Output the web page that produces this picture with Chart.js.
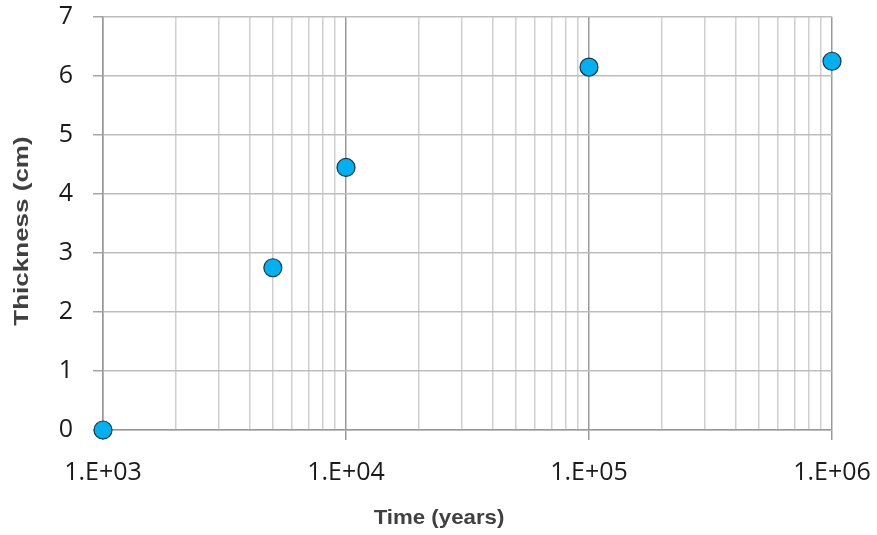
<!DOCTYPE html>
<html>
<head>
<meta charset="utf-8">
<script src="https://cdn.jsdelivr.net/npm/chart.js@4.4.1/dist/chart.umd.min.js"></script>
<style>
html,body{margin:0;padding:0;background:#fff;}
#wrap{width:877px;height:535px;}
</style>
</head>
<body>
<div id="wrap"><canvas id="c" width="877" height="535"></canvas></div>
<script>
// ---- data ----
const timeYears = [1000, 5000, 10000, 100000, 1000000];
const thicknessCm = [0, 2.75, 4.45, 6.15, 6.25];
const xDecades = [1000, 10000, 100000, 1000000];
const xTickLabels = ['1.E+03', '1.E+04', '1.E+05', '1.E+06'];
const yTickValues = [0, 1, 2, 3, 4, 5, 6, 7];
const xTitle = 'Time (years)';
const yTitle = 'Thickness (cm)';

function isDecade(v) {
  return xDecades.some(d => Math.abs(d - v) < 1e-6 * d);
}

const axisTitles = {
  id: 'axisTitles',
  afterDraw(chart) {
    const ctx = chart.ctx;
    ctx.save();
    ctx.fillStyle = '#404040';
    ctx.textAlign = 'center';
    ctx.textBaseline = 'middle';
    ctx.font = 'bold 21px "Liberation Sans", Arial, sans-serif';
    ctx.save();
    ctx.translate(439, 518);
    ctx.scale(1.06, 1);
    ctx.fillText(xTitle, 0, 0);
    ctx.restore();
    ctx.font = 'bold 20px "Liberation Sans", Arial, sans-serif';
    ctx.translate(22, 231);
    ctx.rotate(-Math.PI / 2);
    ctx.scale(1.3, 1);
    ctx.fillText(yTitle, 0, 0);
    ctx.restore();
  }
};

new Chart(document.getElementById('c'), {
  type: 'scatter',
  data: {
    datasets: [{
      data: timeYears.map((t, i) => ({x: t, y: thicknessCm[i]})),
      backgroundColor: '#00B0F0',
      borderColor: '#1B3342',
      borderWidth: 1.2,
      pointRadius: 9,
      pointHoverRadius: 9,
      clip: false
    }]
  },
  options: {
    responsive: false,
    animation: false,
    events: [],
    layout: {padding: {top: 17, right: 45, left: 0, bottom: 0}},
    plugins: {legend: {display: false}, tooltip: {enabled: false}},
    scales: {
      x: {
        type: 'logarithmic',
        min: xDecades[0],
        max: xDecades[xDecades.length - 1],
        afterFit(scale) {
          scale.height = 105;
          scale.paddingLeft = 0; scale.paddingRight = 0;
        },
        afterBuildTicks(scale) {
          const t = [];
          for (let d = 0; d < xDecades.length; d++) {
            const base = xDecades[d];
            t.push({value: base});
            if (d < xDecades.length - 1) {
              for (let m = 2; m <= 9; m++) t.push({value: base * m});
            }
          }
          scale.ticks = t;
        },
        ticks: {
          autoSkip: false,
          maxRotation: 0,
          minRotation: 0,
          padding: 18,
          color: '#1a1a1a',
          font: {family: '"Open Sans", sans-serif', size: 25},
          callback(v) {
            const i = xDecades.findIndex(d => Math.abs(d - v) < 1e-6 * d);
            return i >= 0 ? xTickLabels[i] : '';
          }
        },
        grid: {
          color: ctx => (ctx.tick && isDecade(ctx.tick.value)) ? '#9a9a9a' : '#cfcfcf',
          tickColor: ctx => (ctx.tick && isDecade(ctx.tick.value)) ? '#9a9a9a' : 'rgba(0,0,0,0)',
          lineWidth: 1.5,
          tickLength: 10
        },
        border: {color: '#9a9a9a', width: 1.5}
      },
      y: {
        min: 0,
        max: 7,
        afterFit(scale) {
          scale.width = 103;
          scale.paddingTop = 0; scale.paddingBottom = 0;
        },
        afterBuildTicks(scale) {
          scale.ticks = yTickValues.map(v => ({value: v}));
        },
        ticks: {
          padding: 20,
          color: '#1a1a1a',
          font: {family: '"Open Sans", sans-serif', size: 25},
          callback: v => String(v)
        },
        grid: {
          color: '#bdbdbd',
          tickColor: '#a6a6a6',
          lineWidth: 1.5,
          tickLength: 10
        },
        border: {color: '#9a9a9a', width: 1.5}
      }
    }
  },
  plugins: [axisTitles]
});
</script>
</body>
</html>
